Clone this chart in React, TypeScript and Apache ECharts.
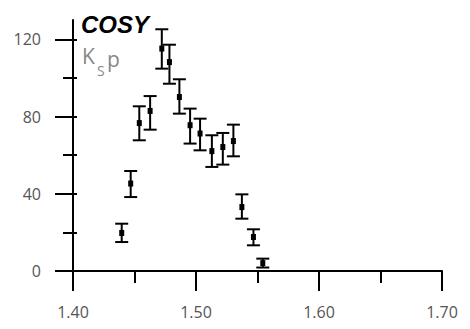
import React, { useEffect, useRef } from "react";
import * as echarts from "echarts";

// Invariant mass bins (GeV) with yields and error-bar limits
const massValues = [1.4396, 1.4469, 1.4539, 1.4627, 1.4722, 1.4784, 1.4865, 1.4952, 1.5033, 1.5129, 1.5218, 1.5304, 1.5373, 1.5467, 1.5543];
const yieldValues = [19.7, 45.3, 76.6, 82.9, 115.2, 108.2, 90.1, 75.5, 71.2, 62.1, 64.2, 67.3, 33.1, 17.6, 4.1];
const yieldLow = [15.0, 38.3, 67.7, 73.2, 104.8, 97.0, 81.5, 66.0, 62.5, 53.9, 55.1, 59.4, 27.1, 13.3, 1.8];
const yieldHigh = [24.5, 51.8, 85.3, 90.6, 125.2, 117.2, 99.3, 84.1, 78.9, 70.3, 71.5, 75.8, 39.7, 21.6, 6.4];

const Y_MAX = 130; // top of the drawn y axis line
const Y_TICK_MAX = 120; // last labelled y tick

const LABEL_FONT = "'Open Sans', sans-serif";
const LABEL_COLOR = "#555";

// plot area
const LEFT = 73;
const RIGHT = 28;
const TOP = 20;
const BOTTOM = 58;
const HEIGHT = 329 - TOP - BOTTOM;
const AXIS_Y = 329 - BOTTOM;
// tick grid ends at 120 so that no tick is drawn at the axis top
const TICK_TOP = AXIS_Y - (HEIGHT * Y_TICK_MAX) / Y_MAX;

// two-decimal mass labels; tolerant of non-numeric input
const massLabel = (v: any) => {
  const n = typeof v === "number" ? v : parseFloat(v);
  return Number.isFinite(n) ? n.toFixed(2) : "";
};

export default function App() {
  const ref = useRef<HTMLDivElement>(null);

  useEffect(() => {
    if (!ref.current) return;
    const chart = echarts.init(ref.current, undefined, { renderer: "svg" });

    const data = massValues.map((m, i) => [m, yieldValues[i], yieldLow[i], yieldHigh[i]]);

    const tickLine = { color: "#000", width: 2 };
    const xRange = { type: "value", min: 1.4, max: 1.7 };
    const hiddenX = (gridIndex: number) => ({ ...xRange, gridIndex, show: false });
    const hiddenY = (gridIndex: number) => ({ type: "value", gridIndex, min: 0, max: 1, show: false });
    // strips under the x axis whose split lines act as x ticks
    const tickStripX = (gridIndex: number, interval: number) => ({
      ...xRange,
      gridIndex,
      interval,
      axisLine: { show: false },
      axisTick: { show: false },
      axisLabel: { show: false },
      splitLine: { show: true, lineStyle: tickLine },
    });
    const yTickAxis = (interval: number, length: number, inside: boolean, labels: boolean) => ({
      type: "value",
      gridIndex: 3,
      min: 0,
      max: Y_TICK_MAX,
      interval,
      position: "left",
      offset: 0,
      splitLine: { show: false },
      axisLine: { show: false },
      axisTick: { show: true, inside, length, lineStyle: tickLine },
      axisLabel: labels
        ? { show: true, margin: 32, fontSize: 16, fontFamily: LABEL_FONT, color: LABEL_COLOR }
        : { show: false },
    });
    const titleText = (text: string, left: number, top: number, textStyle: any) => ({
      text,
      left,
      top,
      padding: 0,
      textStyle: { fontFamily: LABEL_FONT, fontWeight: "normal", ...textStyle },
    });

    chart.setOption({
      animation: false,
      title: [
        titleText("COSY", 81, 12, {
          fontSize: 24,
          fontWeight: "bold",
          fontStyle: "italic",
          fontFamily: "'Liberation Sans', Arial, sans-serif",
          color: "#000",
        }),
        titleText("K", 82, 45, { fontSize: 21, color: "#888" }),
        titleText("S", 97, 63, { fontSize: 14, color: "#888" }),
        titleText("p", 107, 48, { fontSize: 21, color: "#888" }),
      ],
      grid: [
        { left: LEFT, right: RIGHT, top: TOP, bottom: BOTTOM },
        { left: LEFT, right: RIGHT, top: AXIS_Y, height: 20 },
        { left: LEFT, right: RIGHT, top: AXIS_Y, height: 12 },
        { left: LEFT, right: RIGHT, top: TICK_TOP, bottom: BOTTOM },
      ],
      xAxis: [
        {
          ...xRange,
          gridIndex: 0,
          interval: 0.1,
          splitLine: { show: false },
          axisLine: { show: true, lineStyle: { color: "#000", width: 2 } },
          axisTick: { show: true, length: 20, lineStyle: tickLine },
          axisLabel: {
            margin: 33,
            fontSize: 16,
            fontFamily: LABEL_FONT,
            color: LABEL_COLOR,
            formatter: massLabel,
          },
        },
        tickStripX(1, 0.1),
        tickStripX(2, 0.05),
        hiddenX(3),
      ],
      yAxis: [
        {
          type: "value",
          gridIndex: 0,
          min: 0,
          max: Y_MAX,
          splitLine: { show: false },
          axisLine: { show: true, lineStyle: { color: "#000", width: 2 } },
          axisTick: { show: false },
          axisLabel: { show: false },
        },
        hiddenY(1),
        hiddenY(2),
        yTickAxis(40, 18, false, true),
        yTickAxis(20, 10, false, false),
        yTickAxis(20, 4, true, false),
      ],
      series: [
        {
          type: "custom",
          xAxisIndex: 0,
          yAxisIndex: 0,
          data,
          renderItem: (_params: any, api: any) => {
            const x = api.value(0);
            const c = api.coord([x, api.value(1)]);
            const lo = api.coord([x, api.value(2)]);
            const hi = api.coord([x, api.value(3)]);
            const hw = 6.5;
            const stroke = { stroke: "#000", lineWidth: 2 };
            return {
              type: "group",
              children: [
                { type: "line", shape: { x1: c[0], y1: hi[1], x2: c[0], y2: lo[1] }, style: stroke },
                { type: "line", shape: { x1: c[0] - hw, y1: hi[1], x2: c[0] + hw, y2: hi[1] }, style: stroke },
                { type: "line", shape: { x1: c[0] - hw, y1: lo[1], x2: c[0] + hw, y2: lo[1] }, style: stroke },
                { type: "rect", shape: { x: c[0] - 2.5, y: c[1] - 3, width: 5, height: 6 }, style: { fill: "#000" } },
              ],
            };
          },
        },
      ],
    });

    return () => chart.dispose();
  }, []);

  return (
    <div
      ref={ref}
      style={{ position: "fixed", left: 0, top: 0, width: 470, height: 329, background: "#fff" }}
    />
  );
}
